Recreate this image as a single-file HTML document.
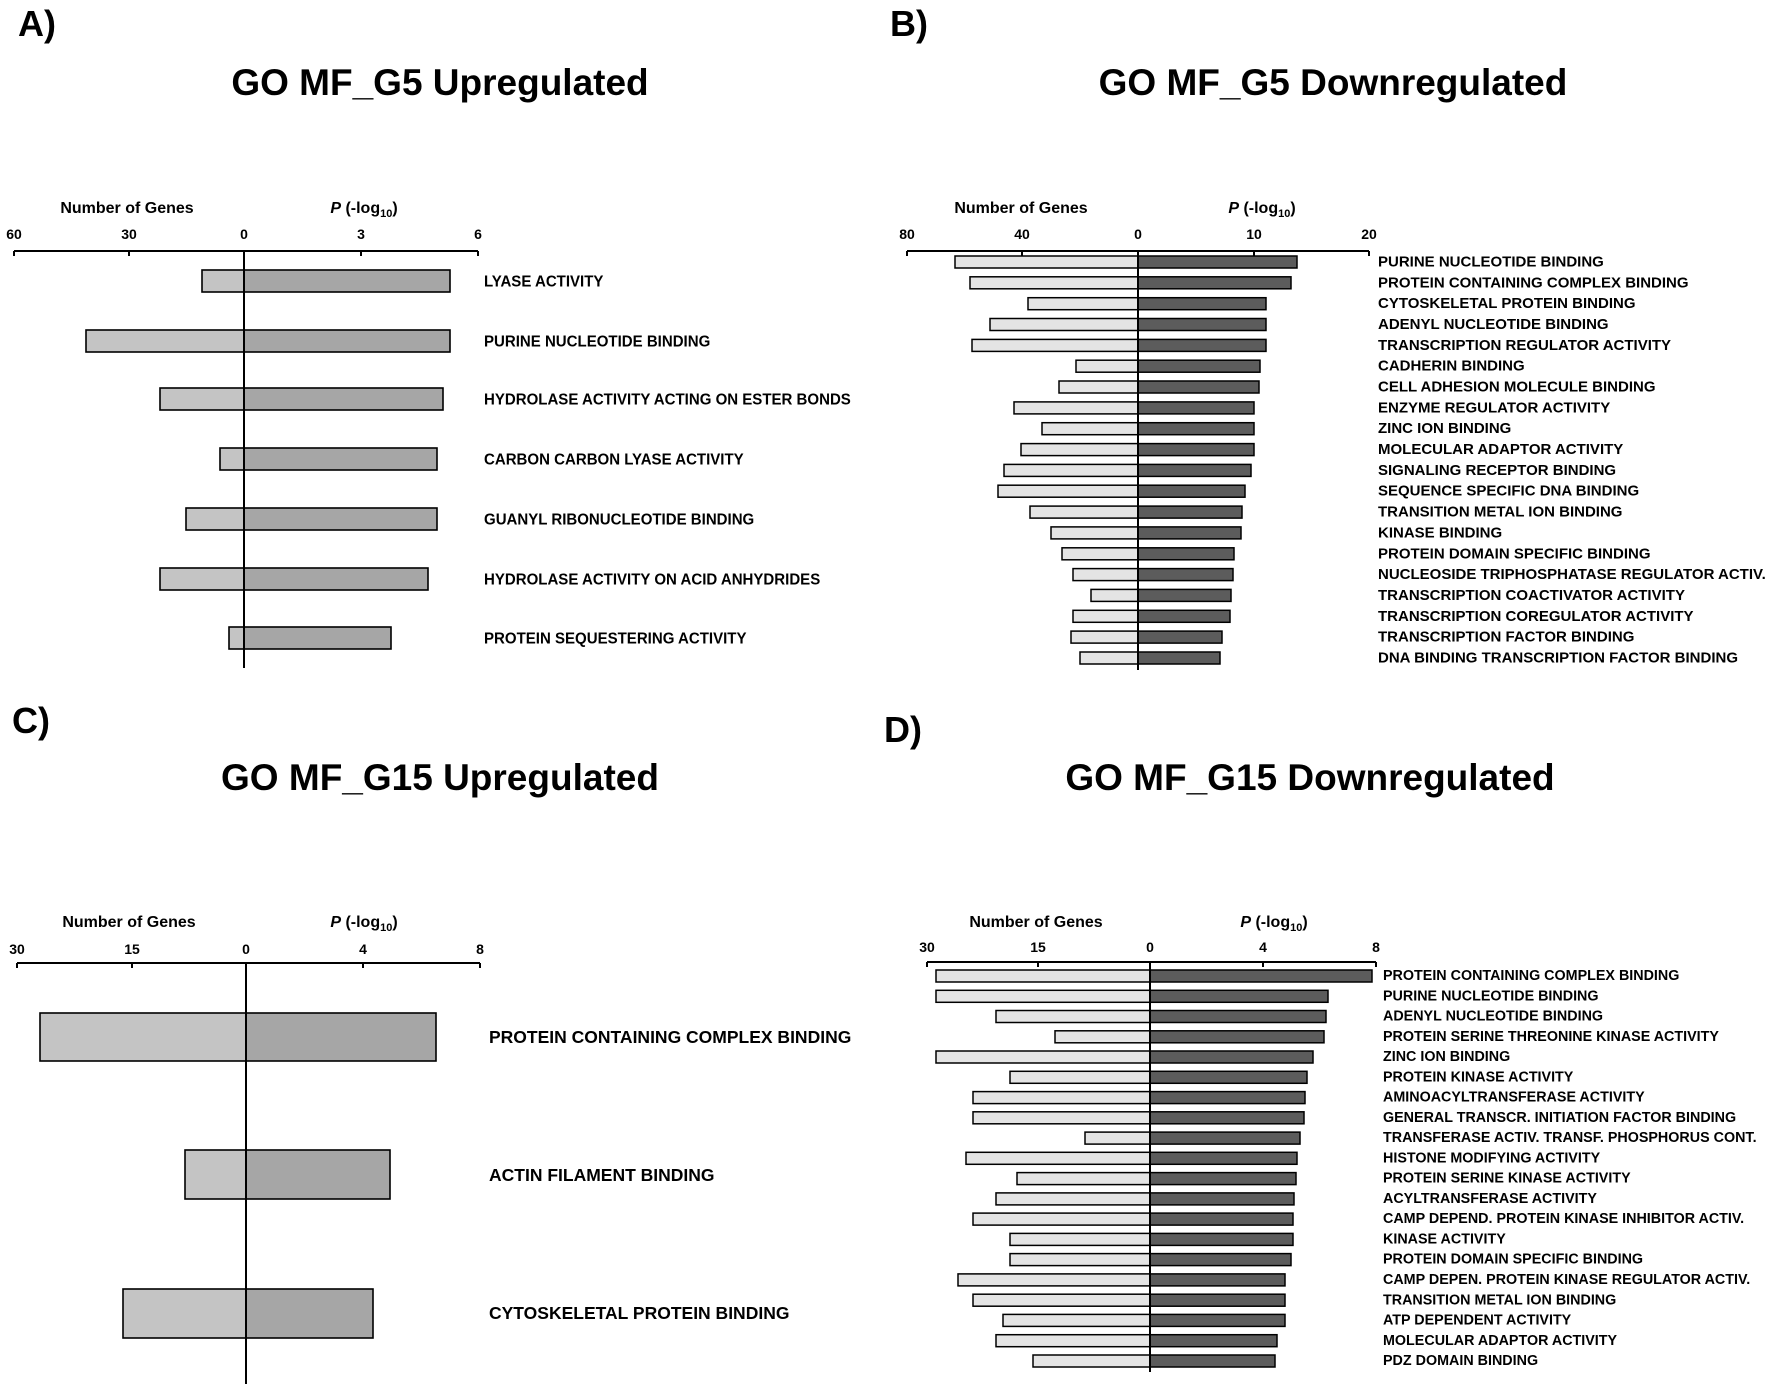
<!DOCTYPE html>
<html><head><meta charset="utf-8"><style>
html,body{margin:0;padding:0;background:#fff;}
svg{display:block;font-family:"Liberation Sans",Arial,sans-serif;}
.t{font-weight:bold;font-size:37px;text-anchor:middle;}
.pl{font-weight:bold;font-size:36px;}
.ax{font-weight:bold;font-size:16px;text-anchor:middle;}
.tk{font-weight:bold;font-size:14px;text-anchor:middle;}
.la{font-weight:bold;font-size:16px;dominant-baseline:central;}
.lb{font-weight:bold;font-size:15px;dominant-baseline:central;}
.lc{font-weight:bold;font-size:17.5px;dominant-baseline:central;}
.a1{fill:#c4c4c4;stroke:#000;stroke-width:1.6}
.a2{fill:#a6a6a6;stroke:#000;stroke-width:1.6}
.b1{fill:#e4e4e4;stroke:#000;stroke-width:1.5}
.b2{fill:#5c5c5c;stroke:#000;stroke-width:1.5}
line{stroke:#000;stroke-width:2}
</style></head><body>
<svg width="1772" height="1389" viewBox="0 0 1772 1389" xmlns="http://www.w3.org/2000/svg">
<!-- Panel A -->
<text class="pl" x="18" y="36">A)</text>
<text class="t" x="440" y="95">GO MF_G5 Upregulated</text>
<text class="ax" x="127" y="213">Number of Genes</text>
<text class="ax" x="364" y="213"><tspan font-style="italic">P</tspan> (-log<tspan font-size="11" dy="4">10</tspan><tspan dy="-4">)</tspan></text>
<text class="tk" x="14" y="239">60</text><text class="tk" x="129" y="239">30</text><text class="tk" x="244" y="239">0</text><text class="tk" x="361" y="239">3</text><text class="tk" x="478" y="239">6</text>
<line x1="14" y1="251" x2="478" y2="251"/>
<line x1="14" y1="251" x2="14" y2="256"/><line x1="129" y1="251" x2="129" y2="256"/><line x1="361" y1="251" x2="361" y2="256"/><line x1="478" y1="251" x2="478" y2="256"/>
<rect class="a1" x="202" y="270" width="42" height="22"/><rect class="a2" x="244" y="270" width="206" height="22"/>
<rect class="a1" x="86" y="330" width="158" height="22"/><rect class="a2" x="244" y="330" width="206" height="22"/>
<rect class="a1" x="160" y="388" width="84" height="22"/><rect class="a2" x="244" y="388" width="199" height="22"/>
<rect class="a1" x="220" y="448" width="24" height="22"/><rect class="a2" x="244" y="448" width="193" height="22"/>
<rect class="a1" x="186" y="508" width="58" height="22"/><rect class="a2" x="244" y="508" width="193" height="22"/>
<rect class="a1" x="160" y="568" width="84" height="22"/><rect class="a2" x="244" y="568" width="184" height="22"/>
<rect class="a1" x="229" y="627" width="15" height="22"/><rect class="a2" x="244" y="627" width="147" height="22"/>
<line x1="244" y1="251" x2="244" y2="668"/>
<g class="la">
<text transform="translate(484,282) scale(0.94,1)">LYASE ACTIVITY</text>
<text transform="translate(484,342) scale(0.94,1)">PURINE NUCLEOTIDE BINDING</text>
<text transform="translate(484,400) scale(0.94,1)">HYDROLASE ACTIVITY ACTING ON ESTER BONDS</text>
<text transform="translate(484,460) scale(0.94,1)">CARBON CARBON LYASE ACTIVITY</text>
<text transform="translate(484,520) scale(0.94,1)">GUANYL RIBONUCLEOTIDE BINDING</text>
<text transform="translate(484,580) scale(0.94,1)">HYDROLASE ACTIVITY ON ACID ANHYDRIDES</text>
<text transform="translate(484,639) scale(0.94,1)">PROTEIN SEQUESTERING ACTIVITY</text>
</g>

<!-- Panel B -->
<text class="pl" x="890" y="36">B)</text>
<text class="t" x="1333" y="95">GO MF_G5 Downregulated</text>
<text class="ax" x="1021" y="213">Number of Genes</text>
<text class="ax" x="1262" y="213"><tspan font-style="italic">P</tspan> (-log<tspan font-size="11" dy="4">10</tspan><tspan dy="-4">)</tspan></text>
<text class="tk" x="907" y="239">80</text><text class="tk" x="1022" y="239">40</text><text class="tk" x="1138" y="239">0</text><text class="tk" x="1254" y="239">10</text><text class="tk" x="1369" y="239">20</text>
<line x1="907" y1="251" x2="1369" y2="251"/>
<line x1="907" y1="251" x2="907" y2="256"/><line x1="1022" y1="251" x2="1022" y2="256"/><line x1="1254" y1="251" x2="1254" y2="256"/><line x1="1369" y1="251" x2="1369" y2="256"/>
<g>
<rect class="b1" x="955" y="256" width="183" height="12"/><rect class="b2" x="1138" y="256" width="159" height="12"/>
<rect class="b1" x="970" y="276.8" width="168" height="12"/><rect class="b2" x="1138" y="276.8" width="153" height="12"/>
<rect class="b1" x="1028" y="297.7" width="110" height="12"/><rect class="b2" x="1138" y="297.7" width="128" height="12"/>
<rect class="b1" x="990" y="318.5" width="148" height="12"/><rect class="b2" x="1138" y="318.5" width="128" height="12"/>
<rect class="b1" x="972" y="339.4" width="166" height="12"/><rect class="b2" x="1138" y="339.4" width="128" height="12"/>
<rect class="b1" x="1076" y="360.2" width="62" height="12"/><rect class="b2" x="1138" y="360.2" width="122" height="12"/>
<rect class="b1" x="1059" y="381" width="79" height="12"/><rect class="b2" x="1138" y="381" width="121" height="12"/>
<rect class="b1" x="1014" y="401.9" width="124" height="12"/><rect class="b2" x="1138" y="401.9" width="116" height="12"/>
<rect class="b1" x="1042" y="422.7" width="96" height="12"/><rect class="b2" x="1138" y="422.7" width="116" height="12"/>
<rect class="b1" x="1021" y="443.6" width="117" height="12"/><rect class="b2" x="1138" y="443.6" width="116" height="12"/>
<rect class="b1" x="1004" y="464.4" width="134" height="12"/><rect class="b2" x="1138" y="464.4" width="113" height="12"/>
<rect class="b1" x="998" y="485.2" width="140" height="12"/><rect class="b2" x="1138" y="485.2" width="107" height="12"/>
<rect class="b1" x="1030" y="506.1" width="108" height="12"/><rect class="b2" x="1138" y="506.1" width="104" height="12"/>
<rect class="b1" x="1051" y="526.9" width="87" height="12"/><rect class="b2" x="1138" y="526.9" width="103" height="12"/>
<rect class="b1" x="1062" y="547.8" width="76" height="12"/><rect class="b2" x="1138" y="547.8" width="96" height="12"/>
<rect class="b1" x="1073" y="568.6" width="65" height="12"/><rect class="b2" x="1138" y="568.6" width="95" height="12"/>
<rect class="b1" x="1091" y="589.4" width="47" height="12"/><rect class="b2" x="1138" y="589.4" width="93" height="12"/>
<rect class="b1" x="1073" y="610.3" width="65" height="12"/><rect class="b2" x="1138" y="610.3" width="92" height="12"/>
<rect class="b1" x="1071" y="631.1" width="67" height="12"/><rect class="b2" x="1138" y="631.1" width="84" height="12"/>
<rect class="b1" x="1080" y="652" width="58" height="12"/><rect class="b2" x="1138" y="652" width="82" height="12"/>
</g>
<line x1="1138" y1="251" x2="1138" y2="670"/>
<g class="lb">
<text x="1378" y="262">PURINE NUCLEOTIDE BINDING</text>
<text x="1378" y="282.8">PROTEIN CONTAINING COMPLEX BINDING</text>
<text x="1378" y="303.7">CYTOSKELETAL PROTEIN BINDING</text>
<text x="1378" y="324.5">ADENYL NUCLEOTIDE BINDING</text>
<text x="1378" y="345.4">TRANSCRIPTION REGULATOR ACTIVITY</text>
<text x="1378" y="366.2">CADHERIN BINDING</text>
<text x="1378" y="387">CELL ADHESION MOLECULE BINDING</text>
<text x="1378" y="407.9">ENZYME REGULATOR ACTIVITY</text>
<text x="1378" y="428.7">ZINC ION BINDING</text>
<text x="1378" y="449.6">MOLECULAR ADAPTOR ACTIVITY</text>
<text x="1378" y="470.4">SIGNALING RECEPTOR BINDING</text>
<text x="1378" y="491.2">SEQUENCE SPECIFIC DNA BINDING</text>
<text x="1378" y="512.1">TRANSITION METAL ION BINDING</text>
<text x="1378" y="532.9">KINASE BINDING</text>
<text x="1378" y="553.8">PROTEIN DOMAIN SPECIFIC BINDING</text>
<text x="1378" y="574.6">NUCLEOSIDE TRIPHOSPHATASE REGULATOR ACTIV.</text>
<text x="1378" y="595.4">TRANSCRIPTION COACTIVATOR ACTIVITY</text>
<text x="1378" y="616.3">TRANSCRIPTION COREGULATOR ACTIVITY</text>
<text x="1378" y="637.1">TRANSCRIPTION FACTOR BINDING</text>
<text x="1378" y="658">DNA BINDING TRANSCRIPTION FACTOR BINDING</text>
</g>

<!-- Panel C -->
<text class="pl" x="12" y="733">C)</text>
<text class="t" x="440" y="790">GO MF_G15 Upregulated</text>
<text class="ax" x="129" y="927">Number of Genes</text>
<text class="ax" x="364" y="927"><tspan font-style="italic">P</tspan> (-log<tspan font-size="11" dy="4">10</tspan><tspan dy="-4">)</tspan></text>
<text class="tk" x="17" y="954">30</text><text class="tk" x="132" y="954">15</text><text class="tk" x="246" y="954">0</text><text class="tk" x="363" y="954">4</text><text class="tk" x="480" y="954">8</text>
<line x1="17" y1="963" x2="480" y2="963"/>
<line x1="17" y1="963" x2="17" y2="968"/><line x1="132" y1="963" x2="132" y2="968"/><line x1="363" y1="963" x2="363" y2="968"/><line x1="480" y1="963" x2="480" y2="968"/>
<rect class="a1" x="40" y="1013" width="206" height="48"/><rect class="a2" x="246" y="1013" width="190" height="48"/>
<rect class="a1" x="185" y="1150" width="61" height="49"/><rect class="a2" x="246" y="1150" width="144" height="49"/>
<rect class="a1" x="123" y="1289" width="123" height="49"/><rect class="a2" x="246" y="1289" width="127" height="49"/>
<line x1="246" y1="963" x2="246" y2="1384"/>
<g class="lc">
<text x="489" y="1037">PROTEIN CONTAINING COMPLEX BINDING</text>
<text x="489" y="1175">ACTIN FILAMENT BINDING</text>
<text x="489" y="1313">CYTOSKELETAL PROTEIN BINDING</text>
</g>

<!-- Panel D -->
<text class="pl" x="884" y="742">D)</text>
<text class="t" x="1310" y="790">GO MF_G15 Downregulated</text>
<text class="ax" x="1036" y="927">Number of Genes</text>
<text class="ax" x="1274" y="927"><tspan font-style="italic">P</tspan> (-log<tspan font-size="11" dy="4">10</tspan><tspan dy="-4">)</tspan></text>
<text class="tk" x="927" y="952">30</text><text class="tk" x="1038" y="952">15</text><text class="tk" x="1150" y="952">0</text><text class="tk" x="1263" y="952">4</text><text class="tk" x="1376" y="952">8</text>
<line x1="927" y1="962" x2="1376" y2="962"/>
<line x1="927" y1="962" x2="927" y2="967"/><line x1="1038" y1="962" x2="1038" y2="967"/><line x1="1263" y1="962" x2="1263" y2="967"/><line x1="1376" y1="962" x2="1376" y2="967"/>
<g>
<rect class="b1" x="936" y="970" width="214" height="12"/><rect class="b2" x="1150" y="970" width="222" height="12"/>
<rect class="b1" x="936" y="990.3" width="214" height="12"/><rect class="b2" x="1150" y="990.3" width="178" height="12"/>
<rect class="b1" x="996" y="1010.5" width="154" height="12"/><rect class="b2" x="1150" y="1010.5" width="176" height="12"/>
<rect class="b1" x="1055" y="1030.8" width="95" height="12"/><rect class="b2" x="1150" y="1030.8" width="174" height="12"/>
<rect class="b1" x="936" y="1051" width="214" height="12"/><rect class="b2" x="1150" y="1051" width="163" height="12"/>
<rect class="b1" x="1010" y="1071.3" width="140" height="12"/><rect class="b2" x="1150" y="1071.3" width="157" height="12"/>
<rect class="b1" x="973" y="1091.6" width="177" height="12"/><rect class="b2" x="1150" y="1091.6" width="155" height="12"/>
<rect class="b1" x="973" y="1111.8" width="177" height="12"/><rect class="b2" x="1150" y="1111.8" width="154" height="12"/>
<rect class="b1" x="1085" y="1132.1" width="65" height="12"/><rect class="b2" x="1150" y="1132.1" width="150" height="12"/>
<rect class="b1" x="966" y="1152.3" width="184" height="12"/><rect class="b2" x="1150" y="1152.3" width="147" height="12"/>
<rect class="b1" x="1017" y="1172.6" width="133" height="12"/><rect class="b2" x="1150" y="1172.6" width="146" height="12"/>
<rect class="b1" x="996" y="1192.9" width="154" height="12"/><rect class="b2" x="1150" y="1192.9" width="144" height="12"/>
<rect class="b1" x="973" y="1213.1" width="177" height="12"/><rect class="b2" x="1150" y="1213.1" width="143" height="12"/>
<rect class="b1" x="1010" y="1233.4" width="140" height="12"/><rect class="b2" x="1150" y="1233.4" width="143" height="12"/>
<rect class="b1" x="1010" y="1253.6" width="140" height="12"/><rect class="b2" x="1150" y="1253.6" width="141" height="12"/>
<rect class="b1" x="958" y="1273.9" width="192" height="12"/><rect class="b2" x="1150" y="1273.9" width="135" height="12"/>
<rect class="b1" x="973" y="1294.2" width="177" height="12"/><rect class="b2" x="1150" y="1294.2" width="135" height="12"/>
<rect class="b1" x="1003" y="1314.4" width="147" height="12"/><rect class="b2" x="1150" y="1314.4" width="135" height="12"/>
<rect class="b1" x="996" y="1334.7" width="154" height="12"/><rect class="b2" x="1150" y="1334.7" width="127" height="12"/>
<rect class="b1" x="1033" y="1355" width="117" height="12"/><rect class="b2" x="1150" y="1355" width="125" height="12"/>
</g>
<line x1="1150" y1="962" x2="1150" y2="1372"/>
<g class="lb">
<text transform="translate(1383,976) scale(0.955,1)">PROTEIN CONTAINING COMPLEX BINDING</text>
<text transform="translate(1383,996.3) scale(0.955,1)">PURINE NUCLEOTIDE BINDING</text>
<text transform="translate(1383,1016.5) scale(0.955,1)">ADENYL NUCLEOTIDE BINDING</text>
<text transform="translate(1383,1036.8) scale(0.955,1)">PROTEIN SERINE THREONINE KINASE ACTIVITY</text>
<text transform="translate(1383,1057) scale(0.955,1)">ZINC ION BINDING</text>
<text transform="translate(1383,1077.3) scale(0.955,1)">PROTEIN KINASE ACTIVITY</text>
<text transform="translate(1383,1097.6) scale(0.955,1)">AMINOACYLTRANSFERASE ACTIVITY</text>
<text transform="translate(1383,1117.8) scale(0.955,1)">GENERAL TRANSCR. INITIATION FACTOR BINDING</text>
<text transform="translate(1383,1138.1) scale(0.955,1)">TRANSFERASE ACTIV. TRANSF. PHOSPHORUS CONT.</text>
<text transform="translate(1383,1158.3) scale(0.955,1)">HISTONE MODIFYING ACTIVITY</text>
<text transform="translate(1383,1178.6) scale(0.955,1)">PROTEIN SERINE KINASE ACTIVITY</text>
<text transform="translate(1383,1198.9) scale(0.955,1)">ACYLTRANSFERASE ACTIVITY</text>
<text transform="translate(1383,1219.1) scale(0.955,1)">CAMP DEPEND. PROTEIN KINASE INHIBITOR ACTIV.</text>
<text transform="translate(1383,1239.4) scale(0.955,1)">KINASE ACTIVITY</text>
<text transform="translate(1383,1259.6) scale(0.955,1)">PROTEIN DOMAIN SPECIFIC BINDING</text>
<text transform="translate(1383,1279.9) scale(0.955,1)">CAMP DEPEN. PROTEIN KINASE REGULATOR ACTIV.</text>
<text transform="translate(1383,1300.2) scale(0.955,1)">TRANSITION METAL ION BINDING</text>
<text transform="translate(1383,1320.4) scale(0.955,1)">ATP DEPENDENT ACTIVITY</text>
<text transform="translate(1383,1340.7) scale(0.955,1)">MOLECULAR ADAPTOR ACTIVITY</text>
<text transform="translate(1383,1361) scale(0.955,1)">PDZ DOMAIN BINDING</text>
</g>
</svg>
</body></html>
